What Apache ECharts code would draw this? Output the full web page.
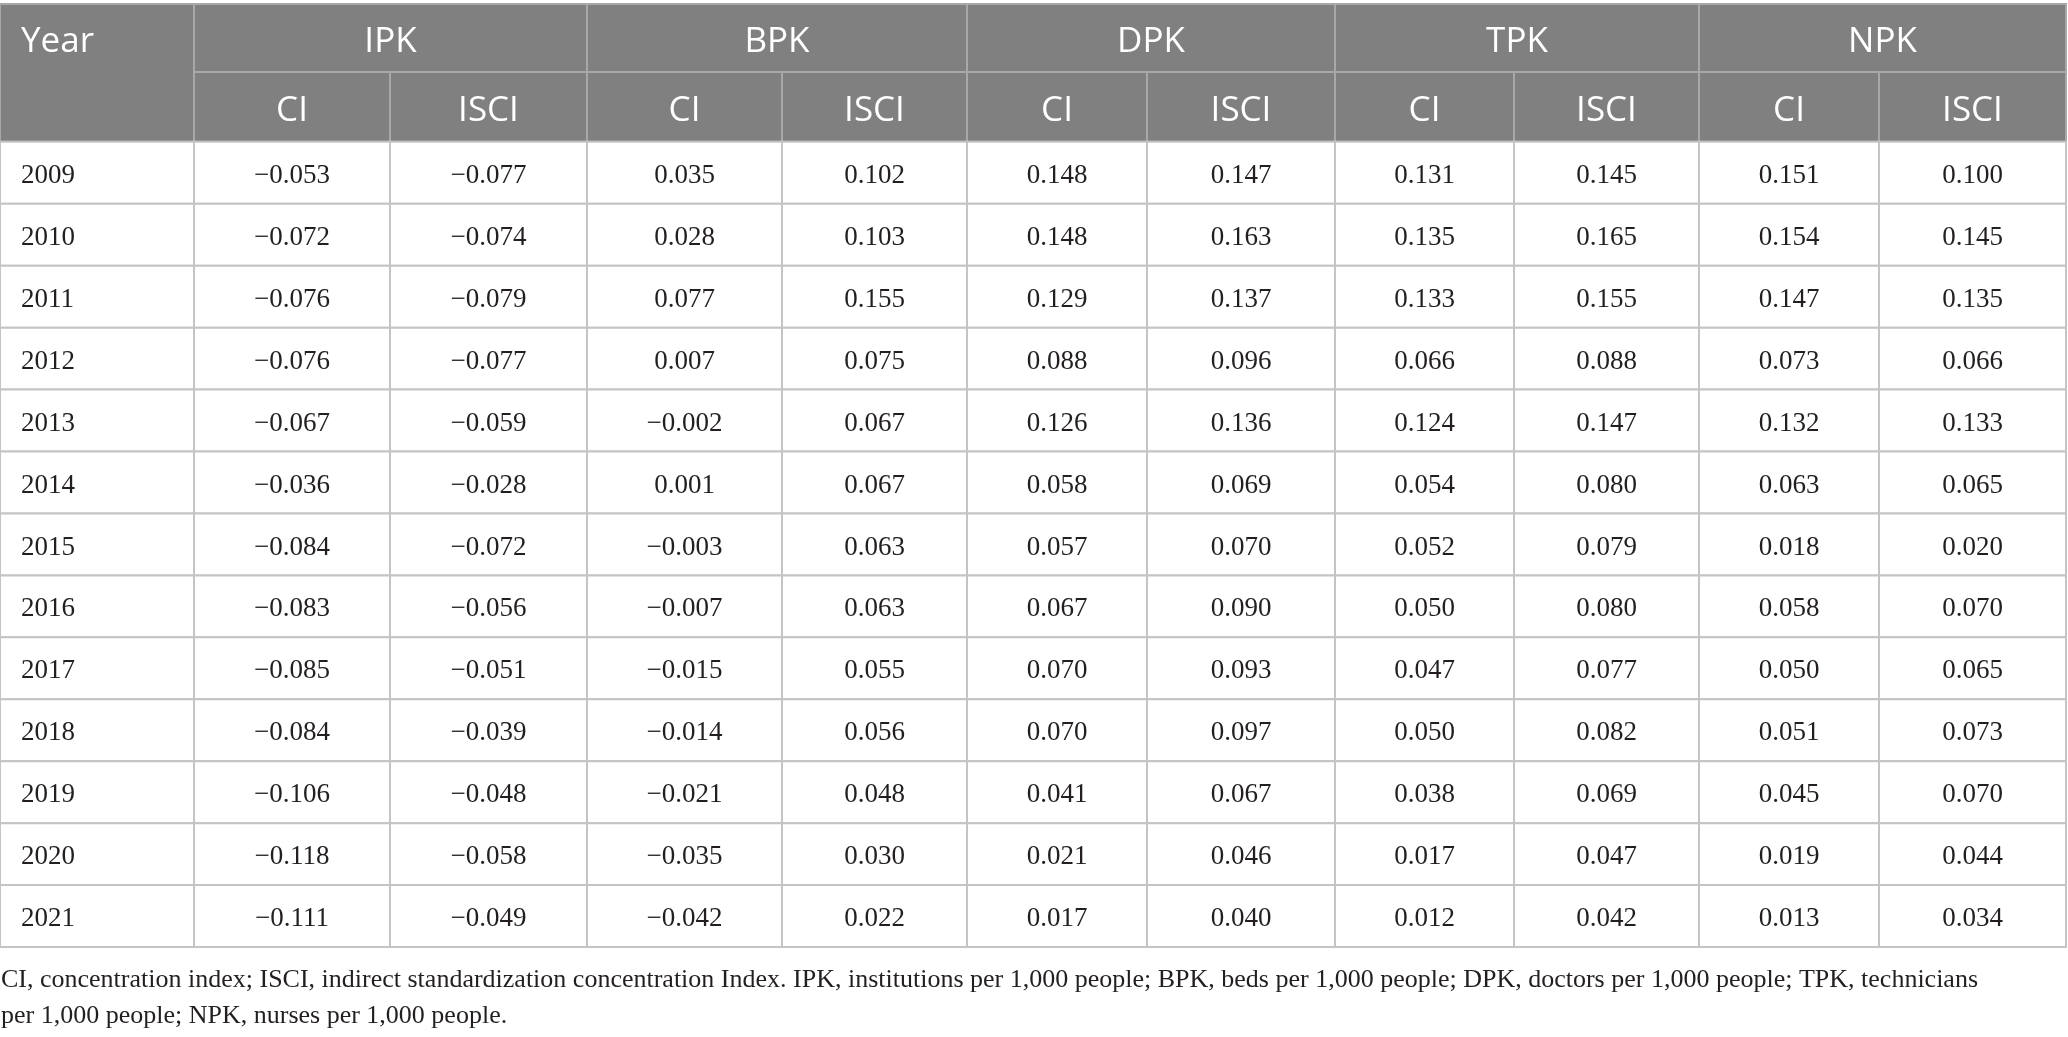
<!DOCTYPE html>
<html>
<head>
<meta charset="utf-8">
<title>CI and ISCI by year</title>
<script src="https://cdn.jsdelivr.net/npm/echarts@6.0.0/dist/echarts.min.js"></script>
<style>
  html, body { margin: 0; padding: 0; background: #fff; }
  #chart { width: 2068px; height: 1037px; }
</style>
</head>
<body>
<div id="chart"></div>
<script>
const years = [2009, 2010, 2011, 2012, 2013, 2014, 2015, 2016, 2017, 2018, 2019, 2020, 2021];
const groups = ['IPK', 'BPK', 'DPK', 'TPK', 'NPK'];
const subHeads = ['CI', 'ISCI'];

const ipkCI   = [-0.053, -0.072, -0.076, -0.076, -0.067, -0.036, -0.084, -0.083, -0.085, -0.084, -0.106, -0.118, -0.111];
const ipkISCI = [-0.077, -0.074, -0.079, -0.077, -0.059, -0.028, -0.072, -0.056, -0.051, -0.039, -0.048, -0.058, -0.049];
const bpkCI   = [0.035, 0.028, 0.077, 0.007, -0.002, 0.001, -0.003, -0.007, -0.015, -0.014, -0.021, -0.035, -0.042];
const bpkISCI = [0.102, 0.103, 0.155, 0.075, 0.067, 0.067, 0.063, 0.063, 0.055, 0.056, 0.048, 0.030, 0.022];
const dpkCI   = [0.148, 0.148, 0.129, 0.088, 0.126, 0.058, 0.057, 0.067, 0.070, 0.070, 0.041, 0.021, 0.017];
const dpkISCI = [0.147, 0.163, 0.137, 0.096, 0.136, 0.069, 0.070, 0.090, 0.093, 0.097, 0.067, 0.046, 0.040];
const tpkCI   = [0.131, 0.135, 0.133, 0.066, 0.124, 0.054, 0.052, 0.050, 0.047, 0.050, 0.038, 0.017, 0.012];
const tpkISCI = [0.145, 0.165, 0.155, 0.088, 0.147, 0.080, 0.079, 0.080, 0.077, 0.082, 0.069, 0.047, 0.042];
const npkCI   = [0.151, 0.154, 0.147, 0.073, 0.132, 0.063, 0.018, 0.058, 0.050, 0.051, 0.045, 0.019, 0.013];
const npkISCI = [0.100, 0.145, 0.135, 0.066, 0.133, 0.065, 0.020, 0.070, 0.065, 0.073, 0.070, 0.044, 0.034];

const footLines = [
  'CI, concentration index; ISCI, indirect standardization concentration Index. IPK, institutions per 1,000 people; BPK, beds per 1,000 people; DPK, doctors per 1,000 people; TPK, technicians',
  'per 1,000 people; NPK, nurses per 1,000 people.'
];

// layout
const colEdges = [0, 194, 390, 587, 782, 967, 1147, 1335, 1514, 1699, 1879, 2066];
const HEAD1 = 68 / 62;   // header rows in data-row units
const HEAD2 = 70 / 62;
const SANS = '"Open Sans", "Noto Sans", sans-serif';
const SERIF = '"Liberation Serif", "DejaVu Serif", serif';

const columns = [ipkCI, ipkISCI, bpkCI, bpkISCI, dpkCI, dpkISCI, tpkCI, tpkISCI, npkCI, npkISCI];

function fmt(v) {
  return (v < 0 ? '\u2212' : '') + Math.abs(v).toFixed(3);
}

// header cells: [firstCol, lastCol+1, yTop, yBottom, label, align]
const headCells = [[0, 1, -(HEAD1 + HEAD2), 0, 'Year', 'left']];
groups.forEach((g, i) => {
  headCells.push([1 + i * 2, 3 + i * 2, -(HEAD1 + HEAD2), -HEAD2, g, 'center']);
  subHeads.forEach((s, j) => {
    headCells.push([1 + i * 2 + j, 2 + i * 2 + j, -HEAD2, 0, s, 'center']);
  });
});

// body cells: [col, row]
const bodyCells = [];
years.forEach((y, r) => {
  bodyCells.push([0, r]);
  columns.forEach((col, c) => bodyCells.push([c + 1, r]));
});

function cellText(c, r) {
  return c === 0 ? String(years[r]) : fmt(columns[c - 1][r]);
}

const chart = echarts.init(document.getElementById('chart'));
chart.setOption({
  animation: false,
  backgroundColor: '#fff',
  title: {
    text: footLines.join('\n'),
    left: 1,
    top: 962,
    padding: 0,
    textStyle: { fontFamily: SERIF, fontSize: 26, fontWeight: 'normal', color: '#231f20', lineHeight: 36 }
  },
  grid: { left: 0, top: 4, width: 2066, height: 943 },
  xAxis: { type: 'value', min: 0, max: 2066, show: false },
  yAxis: { type: 'value', inverse: true, min: -(HEAD1 + HEAD2), max: years.length, show: false },
  series: [
    {
      type: 'custom',
      data: headCells.map((h, i) => [i]),
      renderItem: (params, api) => {
        const h = headCells[params.dataIndex];
        const p0 = api.coord([colEdges[h[0]], h[2]]);
        const p1 = api.coord([colEdges[h[1]], h[3]]);
        const isYear = h[5] === 'left';
        const ty = isYear ? api.coord([0, -(HEAD1 / 2 + HEAD2)])[1] : (p0[1] + p1[1]) / 2;
        return {
          type: 'group',
          children: [
            {
              type: 'rect',
              shape: { x: p0[0], y: p0[1], width: p1[0] - p0[0], height: p1[1] - p0[1] },
              style: { fill: '#808080', stroke: '#a8a8a8', lineWidth: 2 }
            },
            {
              type: 'text',
              style: {
                text: h[4],
                x: isYear ? p0[0] + 21 : (p0[0] + p1[0]) / 2,
                y: ty + 4,
                align: h[5],
                verticalAlign: 'middle',
                fontFamily: SANS,
                fontSize: 35,
                fill: '#ffffff'
              }
            }
          ]
        };
      }
    },
    {
      type: 'custom',
      data: bodyCells,
      renderItem: (params, api) => {
        const c = api.value(0);
        const r = api.value(1);
        const p0 = api.coord([colEdges[c], r]);
        const p1 = api.coord([colEdges[c + 1], r + 1]);
        return {
          type: 'group',
          children: [
            {
              type: 'rect',
              shape: { x: p0[0], y: p0[1], width: p1[0] - p0[0], height: p1[1] - p0[1] },
              style: { fill: '#ffffff', stroke: '#c4c4c4', lineWidth: 2 }
            },
            {
              type: 'text',
              style: {
                text: cellText(c, r),
                x: c === 0 ? p0[0] + 21 : (p0[0] + p1[0]) / 2,
                y: (p0[1] + p1[1]) / 2 + 3,
                align: c === 0 ? 'left' : 'center',
                verticalAlign: 'middle',
                fontFamily: SERIF,
                fontSize: 27,
                fill: '#231f20'
              }
            }
          ]
        };
      }
    }
  ]
});
</script>
</body>
</html>
